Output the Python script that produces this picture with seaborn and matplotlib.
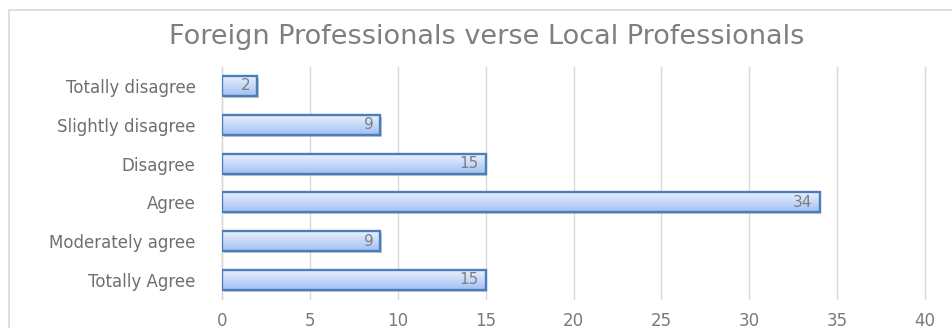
import matplotlib
matplotlib.use("Agg")
import matplotlib.pyplot as plt
from matplotlib.patches import Rectangle
from matplotlib.transforms import offset_copy
from matplotlib.colors import LinearSegmentedColormap
import numpy as np
import pandas as pd
import seaborn as sns

categories = ["Totally disagree", "Slightly disagree", "Disagree", "Agree",
              "Moderately agree", "Totally Agree"]
values = [2, 9, 15, 34, 9, 15]
x_ticks = [0, 5, 10, 15, 20, 25, 30, 35, 40]
title = "Foreign Professionals verse Local Professionals"

df = pd.DataFrame({"category": categories, "value": values})

sns.set_theme(style="white")
plt.rcParams["font.family"] = ["DejaVu Sans"]

fig = plt.figure(figsize=(9.53, 3.28), dpi=100)
ax = fig.add_axes([0.233, 0.0872, 0.7376, 0.7098])

sns.barplot(data=df, x="value", y="category", orient="h", ax=ax,
            color="#c5d9f7", width=0.52, edgecolor="#4a7ebb", linewidth=1.7,
            zorder=4)

grad = np.linspace(0, 1, 64).reshape(-1, 1)
cmap = LinearSegmentedColormap.from_list("g", ["#edf3fe", "#a2c0f3"])
shadow_tr = offset_copy(ax.transData, fig=fig, x=1.5, y=-2.0, units="dots")
for p in list(ax.patches):
    x0, y0 = p.get_x(), p.get_y()
    w, h = p.get_width(), p.get_height()
    ax.add_patch(Rectangle((x0, y0), w, h, transform=shadow_tr,
                           facecolor="#8c8c8c", edgecolor="none", alpha=0.45,
                           zorder=2.5))
    im = ax.imshow(grad, cmap=cmap, aspect="auto",
                   extent=[x0, x0 + w, y0 + h, y0], origin="upper", zorder=3)
    im.set_clip_path(p)
    p.set_facecolor("none")
    p.set_zorder(4)

ax.set_xlim(0, 40)
ax.set_ylim(5.5, -0.5)
ax.set_xticks(x_ticks)
ax.set_xticklabels([str(t) for t in x_ticks], color="#7a7a7a", fontsize=12)
ax.tick_params(axis="y", labelsize=12, labelcolor="#6f6f6f", length=0, pad=19)
ax.tick_params(axis="x", length=0, pad=9)
ax.set_xlabel("")
ax.set_ylabel("")
ax.grid(axis="x", color="#d9d9d9", linewidth=1, zorder=0)
ax.grid(axis="y", visible=False)
for gl in ax.get_xgridlines():
    gl.set_clip_on(False)
for s in ["top", "right", "bottom"]:
    ax.spines[s].set_visible(False)
ax.spines["left"].set_color("#d9d9d9")
ax.spines["left"].set_linewidth(1)

for i, v in enumerate(values):
    ax.annotate(str(v), xy=(v, i), xytext=(-5, 0), textcoords="offset points",
                ha="right", va="center", color="#7f7f7f", fontsize=11, zorder=6)

fig.text(0.511, 0.887, title, ha="center", va="center", fontsize=19.5,
         color="#7f7f7f")

fig.patches.append(Rectangle((9 / 953, -0.1), 1.2, (1 - 10 / 328) + 0.1,
                             transform=fig.transFigure, fill=False,
                             edgecolor="#d9d9d9", linewidth=1.2))

fig.savefig("out.png", dpi=100)
